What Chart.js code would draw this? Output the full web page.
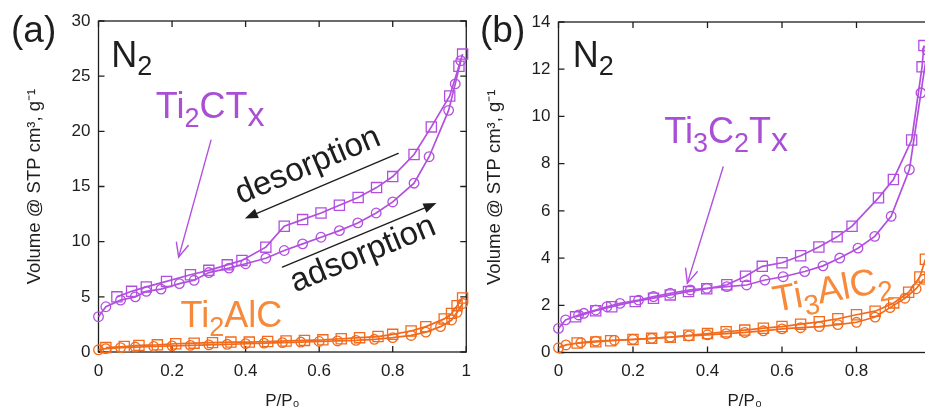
<!DOCTYPE html>
<html>
<head>
<meta charset="utf-8">
<script src="https://cdn.jsdelivr.net/npm/chart.js@4.4.1/dist/chart.umd.min.js"></script>
<style>
  html, body { margin: 0; padding: 0; background: #fff; overflow: hidden; }
  #wrap { position: relative; width: 925px; height: 415px; overflow: hidden; background: #fff; }
  #ca { position: absolute; left: 0; top: 0; width: 480px; height: 415px; }
  #cb { position: absolute; left: 460px; top: 0; width: 490px; height: 415px; }
</style>
</head>
<body>
<div id="wrap">
  <canvas id="ca" width="480" height="415"></canvas>
  <canvas id="cb" width="490" height="415"></canvas>
</div>
<script>
// ---- tick labels ----
const xTickLabels = ['0', '0.2', '0.4', '0.6', '0.8', '1'];
const yTickLabelsA = ['0', '5', '10', '15', '20', '25', '30'];
const yTickLabelsB = ['0', '2', '4', '6', '8', '10', '12', '14'];

// ---- (a) Ti2CTx, N2 isotherm ----
const ti2ctxAdsP = [0, 0.02, 0.06, 0.1, 0.13, 0.17, 0.22, 0.26, 0.30, 0.355, 0.40, 0.455, 0.505, 0.555, 0.605, 0.655, 0.705, 0.755, 0.80, 0.858, 0.899, 0.952, 0.97, 0.985];
const ti2ctxAdsV = [3.2, 4.1, 4.7, 5.0, 5.5, 5.7, 6.2, 6.5, 7.2, 7.6, 8.0, 8.5, 9.2, 9.8, 10.4, 11.0, 11.7, 12.6, 13.6, 15.3, 17.7, 21.9, 24.3, 26.4];
const ti2ctxDesP = [0.05, 0.09, 0.13, 0.185, 0.25, 0.30, 0.35, 0.39, 0.455, 0.505, 0.555, 0.605, 0.655, 0.706, 0.756, 0.80, 0.858, 0.905, 0.955, 0.98, 0.99];
const ti2ctxDesV = [5.0, 5.5, 5.9, 6.4, 7.0, 7.4, 7.9, 8.3, 9.5, 11.4, 12.0, 12.6, 13.3, 14.0, 14.9, 15.9, 17.9, 20.4, 23.2, 25.9, 27.0];

// ---- (a) Ti2AlC ----
const ti2alcAdsP = [0, 0.02, 0.06, 0.1, 0.15, 0.2, 0.25, 0.3, 0.35, 0.4, 0.45, 0.5, 0.55, 0.6, 0.65, 0.7, 0.75, 0.8, 0.85, 0.89, 0.93, 0.96, 0.975, 0.99];
const ti2alcAdsV = [0.2, 0.3, 0.4, 0.45, 0.5, 0.55, 0.6, 0.65, 0.7, 0.75, 0.8, 0.85, 0.9, 0.95, 1.0, 1.05, 1.15, 1.3, 1.5, 1.8, 2.3, 2.9, 3.6, 4.4];
const ti2alcDesP = [0.02, 0.07, 0.11, 0.16, 0.21, 0.26, 0.31, 0.36, 0.41, 0.46, 0.51, 0.56, 0.61, 0.66, 0.71, 0.76, 0.80, 0.85, 0.89, 0.94, 0.96, 0.975, 0.99];
const ti2alcDesV = [0.4, 0.5, 0.6, 0.65, 0.75, 0.8, 0.85, 0.9, 0.9, 0.95, 1.0, 1.05, 1.1, 1.2, 1.3, 1.4, 1.6, 1.9, 2.3, 3.0, 3.5, 4.2, 4.9];

// ---- (b) Ti3C2Tx ----
const ti3c2txAdsP = [0, 0.019, 0.054, 0.068, 0.1, 0.13, 0.165, 0.215, 0.255, 0.3, 0.354, 0.398, 0.452, 0.505, 0.554, 0.603, 0.661, 0.71, 0.755, 0.804, 0.849, 0.893, 0.942, 0.973, 0.99];
const ti3c2txAdsV = [1.02, 1.38, 1.59, 1.66, 1.8, 1.94, 2.08, 2.22, 2.37, 2.51, 2.65, 2.72, 2.79, 2.86, 3.07, 3.21, 3.43, 3.67, 4.0, 4.42, 4.92, 5.77, 7.75, 11.0, 12.8];
const ti3c2txDesP = [0.046, 0.1, 0.143, 0.206, 0.255, 0.3, 0.349, 0.398, 0.452, 0.502, 0.547, 0.6, 0.65, 0.699, 0.748, 0.788, 0.859, 0.899, 0.948, 0.976, 0.981];
const ti3c2txDesV = [1.51, 1.77, 1.94, 2.16, 2.3, 2.44, 2.58, 2.7, 2.87, 3.23, 3.65, 3.8, 4.1, 4.47, 4.9, 5.35, 6.55, 7.33, 9.0, 12.1, 13.0];

// ---- (b) Ti3AlC2 ----
const ti3alc2AdsP = [0, 0.02, 0.06, 0.1, 0.15, 0.2, 0.25, 0.3, 0.35, 0.4, 0.45, 0.5, 0.55, 0.6, 0.65, 0.7, 0.75, 0.8, 0.85, 0.89, 0.93, 0.96, 0.98];
const ti3alc2AdsV = [0.2, 0.32, 0.42, 0.48, 0.52, 0.56, 0.6, 0.65, 0.7, 0.75, 0.8, 0.85, 0.92, 1.0, 1.05, 1.1, 1.18, 1.28, 1.5, 1.9, 2.3, 2.7, 3.1];
const ti3alc2DesP = [0.05, 0.1, 0.14, 0.2, 0.25, 0.3, 0.35, 0.4, 0.45, 0.5, 0.55, 0.6, 0.65, 0.7, 0.75, 0.8, 0.85, 0.9, 0.94, 0.97, 0.985];
const ti3alc2DesV = [0.4, 0.45, 0.5, 0.55, 0.6, 0.65, 0.73, 0.8, 0.88, 0.95, 1.03, 1.1, 1.2, 1.3, 1.43, 1.6, 1.75, 2.1, 2.55, 3.2, 3.95];

// ---- styling ----
const FONT = "'Liberation Sans', Arial, Helvetica, sans-serif";
const INK = '#1e1e1e';
const PURPLE = '#b24fe0';
const PURPLE_TEXT = '#a84fd6';
const ORANGE = '#f26a1b';
const ORANGE_TEXT = '#f7893a';

function series(xs, ys, color, style) {
  return {
    data: xs.map((x, i) => ({ x: x, y: ys[i] })),
    showLine: true,
    borderColor: color,
    borderWidth: 1.7,
    pointStyle: style,
    pointRadius: style === 'rect' ? 7.2 : 4.8,
    pointBorderColor: color,
    pointBackgroundColor: 'rgba(0,0,0,0)',
    pointBorderWidth: 1.3,
    tension: 0,
    clip: 8
  };
}

// text made of runs: [text, fontSize, baselineShift]
function drawRuns(ctx, x, y, runs, color, angle) {
  ctx.save();
  ctx.translate(x, y);
  if (angle) ctx.rotate(angle * Math.PI / 180);
  ctx.fillStyle = color;
  ctx.textAlign = 'left';
  ctx.textBaseline = 'alphabetic';
  let cx = 0;
  runs.forEach(r => {
    ctx.font = r[1] + 'px ' + FONT;
    ctx.fillText(r[0], cx, r[2] || 0);
    cx += ctx.measureText(r[0]).width;
  });
  ctx.restore();
}

function arrow(ctx, x1, y1, x2, y2, color, filled) {
  const ang = Math.atan2(y2 - y1, x2 - x1);
  ctx.save();
  ctx.strokeStyle = color;
  ctx.fillStyle = color;
  ctx.lineWidth = 1.4;
  ctx.lineCap = 'round';
  ctx.beginPath();
  ctx.moveTo(x1, y1);
  ctx.lineTo(filled ? x2 - 8 * Math.cos(ang) : x2, filled ? y2 - 8 * Math.sin(ang) : y2);
  ctx.stroke();
  if (filled) {
    const len = 13, half = 5;
    const bx = x2 - len * Math.cos(ang), by = y2 - len * Math.sin(ang);
    ctx.beginPath();
    ctx.moveTo(x2, y2);
    ctx.lineTo(bx + half * Math.sin(ang), by - half * Math.cos(ang));
    ctx.lineTo(bx - half * Math.sin(ang), by + half * Math.cos(ang));
    ctx.closePath();
    ctx.fill();
  } else {
    const len = 15, spread = 0.42;
    ctx.beginPath();
    ctx.moveTo(x2 - len * Math.cos(ang - spread), y2 - len * Math.sin(ang - spread));
    ctx.lineTo(x2, y2);
    ctx.lineTo(x2 - len * Math.cos(ang + spread), y2 - len * Math.sin(ang + spread));
    ctx.stroke();
  }
  ctx.restore();
}

// boxed frame with inward ticks on all four sides
const framePlugin = {
  id: 'frame',
  beforeDatasetsDraw(chart) {
    const { ctx, chartArea: a, scales: { x, y } } = chart;
    ctx.save();
    ctx.strokeStyle = INK;
    ctx.lineWidth = 1.3;
    ctx.strokeRect(a.left, a.top, a.right - a.left, a.bottom - a.top);
    const L = 6;
    ctx.beginPath();
    x.ticks.forEach(t => {
      const px = x.getPixelForValue(t.value);
      ctx.moveTo(px, a.bottom); ctx.lineTo(px, a.bottom - L);
      ctx.moveTo(px, a.top); ctx.lineTo(px, a.top + L);
    });
    y.ticks.forEach(t => {
      const py = y.getPixelForValue(t.value);
      ctx.moveTo(a.left, py); ctx.lineTo(a.left + L, py);
      ctx.moveTo(a.right, py); ctx.lineTo(a.right - L, py);
    });
    ctx.stroke();
    ctx.restore();
  }
};

function makeOptions(yMax, yStep, yLabels, pad, xHeight) {
  return {
    responsive: false,
    animation: false,
    events: [],
    layout: { padding: pad },
    plugins: { legend: { display: false }, tooltip: { enabled: false } },
    scales: {
      x: {
        type: 'linear', min: 0, max: 1,
        grid: { display: false, drawTicks: false },
        border: { display: false },
        ticks: {
          stepSize: 0.2, padding: 9, color: INK,
          font: { family: FONT, size: 17 },
          maxRotation: 0,
          callback: (v, i) => xTickLabels[i]
        },
        title: {
          display: true, text: 'P/P\u2080', color: INK,
          font: { family: FONT, size: 17 },
          padding: { top: 0, bottom: 3 }
        },
        afterFit: s => { s.height = xHeight; }
      },
      y: {
        type: 'linear', min: 0, max: yMax,
        grid: { display: false, drawTicks: false },
        border: { display: false },
        ticks: {
          stepSize: yStep, padding: 8, color: INK,
          font: { family: FONT, size: 17 },
          callback: (v, i) => yLabels[i]
        },
        title: {
          display: true, text: 'Volume @ STP cm\u00b3, g\u207b\u00b9', color: INK,
          font: { family: FONT, size: 18.5 },
          padding: { top: 24, bottom: 0 }
        },
        afterFit: s => { s.width = 98.5; }
      }
    }
  };
}

// annotations placed in data units
function at(chart, px, v) {
  return [chart.scales.x.getPixelForValue(px), chart.scales.y.getPixelForValue(v)];
}

const notesA = {
  id: 'notesA',
  afterDraw(chart) {
    const ctx = chart.ctx;
    drawRuns(ctx, 11, 42, [['(a)', 37]], INK);
    let p = at(chart, 0.035, 25.8);
    drawRuns(ctx, p[0], p[1], [['N', 36], ['2', 27, 8]], INK);
    p = at(chart, 0.156, 21.2);
    drawRuns(ctx, p[0], p[1], [['Ti', 36], ['2', 27, 9], ['CT', 36], ['x', 34, 8]], PURPLE_TEXT);
    let q = at(chart, 0.306, 19.2), r = at(chart, 0.218, 8.6);
    arrow(ctx, q[0], q[1], r[0], r[1], PURPLE, false);
    p = at(chart, 0.386, 13.4);
    drawRuns(ctx, p[0], p[1], [['desorption', 33]], INK, -22.8);
    q = at(chart, 0.815, 18.0); r = at(chart, 0.398, 12.1);
    arrow(ctx, q[0], q[1], r[0], r[1], INK, true);
    p = at(chart, 0.535, 5.4);
    drawRuns(ctx, p[0], p[1], [['adsorption', 33]], INK, -22.5);
    q = at(chart, 0.5, 7.7); r = at(chart, 0.919, 13.5);
    arrow(ctx, q[0], q[1], r[0], r[1], INK, true);
    p = at(chart, 0.223, 2.26);
    drawRuns(ctx, p[0], p[1], [['Ti', 36], ['2', 27, 9], ['AlC', 36]], ORANGE_TEXT);
  }
};

const notesB = {
  id: 'notesB',
  afterDraw(chart) {
    const ctx = chart.ctx;
    drawRuns(ctx, 20, 42, [['(b)', 37]], INK);
    let p = at(chart, 0.038, 12.1);
    drawRuns(ctx, p[0], p[1], [['N', 36], ['2', 27, 8]], INK);
    p = at(chart, 0.284, 8.88);
    drawRuns(ctx, p[0], p[1], [['Ti', 36], ['3', 27, 9], ['C', 36], ['2', 27, 9], ['T', 36], ['x', 34, 8]], PURPLE_TEXT);
    const q = at(chart, 0.442, 7.86), r = at(chart, 0.346, 2.94);
    arrow(ctx, q[0], q[1], r[0], r[1], PURPLE, false);
    p = at(chart, 0.582, 1.72);
    drawRuns(ctx, p[0], p[1], [['Ti', 37], ['3', 28, 9], ['AlC', 37], ['2', 28, 9]], ORANGE_TEXT, -10.5);
  }
};

new Chart(document.getElementById('ca'), {
  type: 'scatter',
  data: {
    datasets: [
      series(ti2alcAdsP, ti2alcAdsV, ORANGE, 'circle'),
      series(ti2alcDesP, ti2alcDesV, ORANGE, 'rect'),
      series(ti2ctxAdsP, ti2ctxAdsV, PURPLE, 'circle'),
      series(ti2ctxDesP, ti2ctxDesV, PURPLE, 'rect')
    ]
  },
  options: makeOptions(30, 5, yTickLabelsA, { top: 21, right: 9, left: 0, bottom: 0 }, 63),
  plugins: [framePlugin, notesA]
});

new Chart(document.getElementById('cb'), {
  type: 'scatter',
  data: {
    datasets: [
      series(ti3alc2AdsP, ti3alc2AdsV, ORANGE, 'circle'),
      series(ti3alc2DesP, ti3alc2DesV, ORANGE, 'rect'),
      series(ti3c2txAdsP, ti3c2txAdsV, PURPLE, 'circle'),
      series(ti3c2txDesP, ti3c2txDesV, PURPLE, 'rect')
    ]
  },
  options: makeOptions(14, 2, yTickLabelsB, { top: 22, right: 19, left: 0, bottom: 0 }, 62.5),
  plugins: [framePlugin, notesB]
});
</script>
</body>
</html>
